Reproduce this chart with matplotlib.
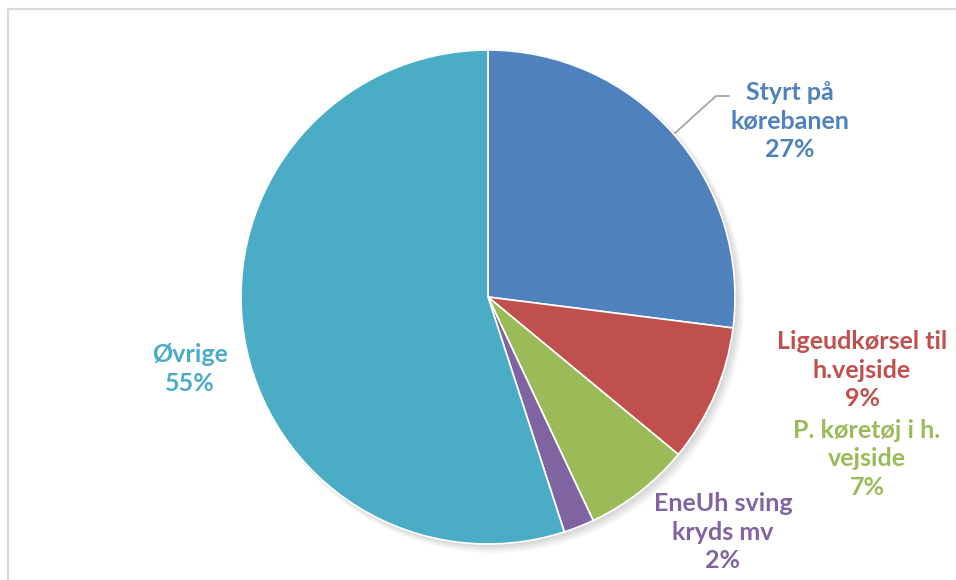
import matplotlib.pyplot as plt
from matplotlib.lines import Line2D

categories = ["Styrt på\nkørebanen", "Ligeudkørsel til\nh.vejside", "P. køretøj i h.\nvejside",
              "EneUh sving\nkryds mv", "Øvrige"]
shares = [27, 9, 7, 2, 55]
colors = ["#4F81BD", "#C0504D", "#9BBB59", "#8064A2", "#4BACC6"]

W, H = 956, 580
cx, cy, r = 488, 297, 247

fig = plt.figure(figsize=(W / 100, H / 100), dpi=100)
ax = fig.add_axes([0, 0, 1, 1])
ax.axis("off")

# soft shadow behind the pie
for i, a in enumerate([0.04, 0.04, 0.035, 0.03]):
    ax.add_patch(plt.Circle((0.012 + i * 0.004, -0.012 - i * 0.004), 1.0 + i * 0.004,
                            color="black", alpha=a, lw=0, zorder=0))

ax.pie(shares, colors=colors, startangle=90, counterclock=False, radius=1.0,
       wedgeprops=dict(edgecolor="white", linewidth=1.2), normalize=True)
ax.set_xlim(-cx / r, (W - cx) / r)
ax.set_ylim(-(H - cy) / r, cy / r)
ax.set_aspect("auto")

# label positions in pixels (centre of text block)
label_pos = [(790, 121), (862, 370), (867, 459), (723, 532), (190, 369)]
for name, val, col, (px, py) in zip(categories, shares, colors, label_pos):
    fig.text(px / W, 1 - py / H, f"{name}\n{val}%", color=col, ha="center", va="center",
             fontsize=18, fontweight="bold", family="Lato", linespacing=1.3)

# leader line for the first label
fig.add_artist(Line2D([675 / W, 716 / W, 729 / W], [1 - 133 / H, 1 - 96 / H, 1 - 96 / H],
                      color="#A6A6A6", lw=1.3))

# chart area border (top and left edges)
fig.add_artist(Line2D([7.5 / W, 7.5 / W, 1], [0, 1 - 8.5 / H, 1 - 8.5 / H],
                      color="#D9D9D9", lw=1.6))

fig.savefig("out.png", dpi=100)
